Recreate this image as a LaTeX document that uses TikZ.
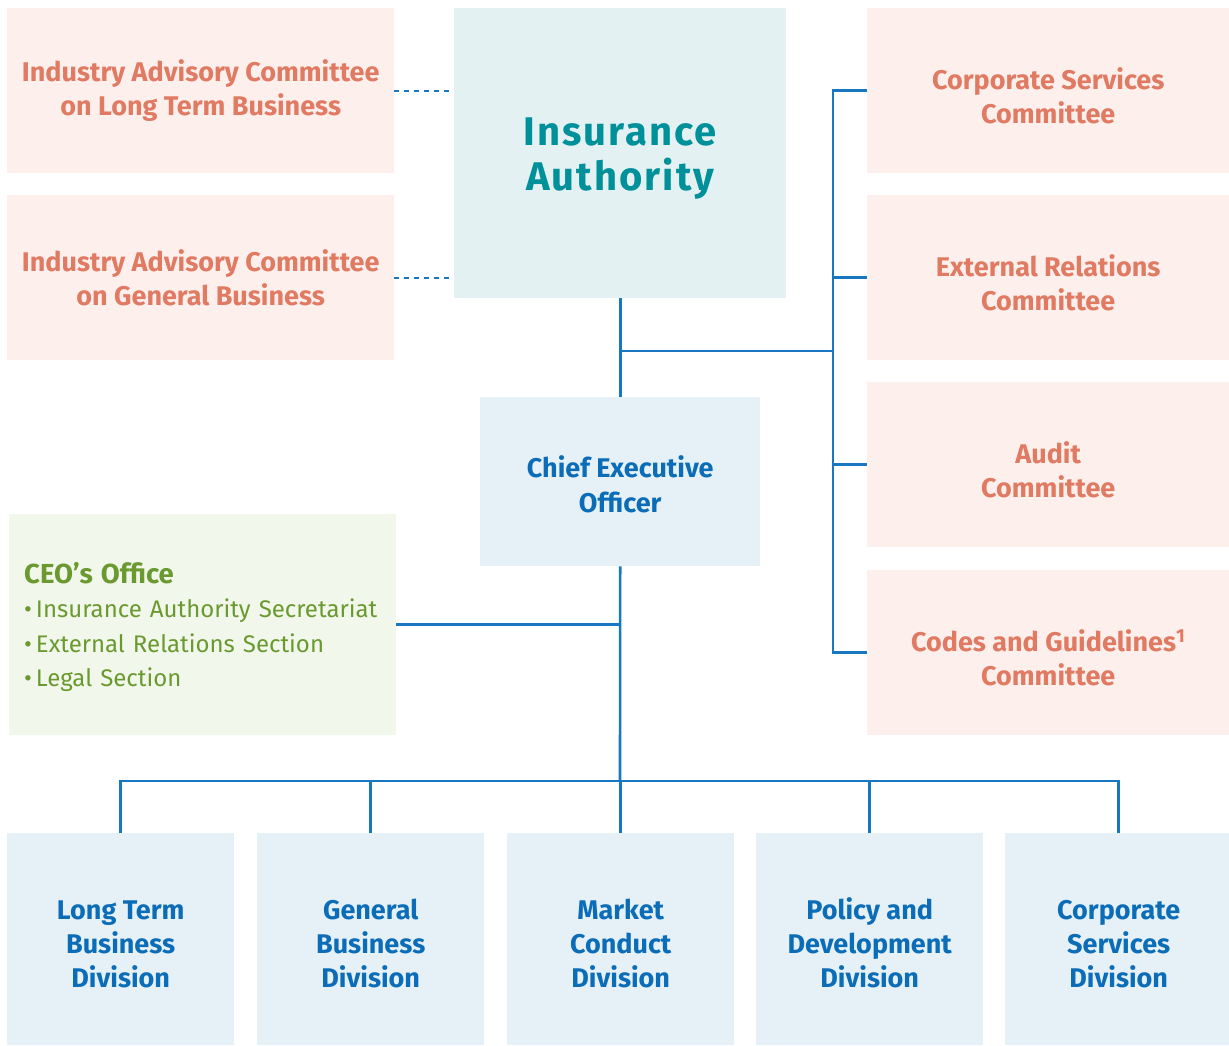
\documentclass[tikz,border=0pt]{standalone}
\usepackage{fontspec}
\setmainfont{Fira Sans}
\newfontfamily\titlefont[LetterSpace=5]{Fira Sans}
\usetikzlibrary{positioning}
\definecolor{cmtefill}{HTML}{FDEFEC}
\definecolor{cmtetext}{HTML}{E07A62}
\definecolor{iafill}{HTML}{E3F1F3}
\definecolor{iatext}{HTML}{00909A}
\definecolor{divfill}{HTML}{E6F0F7}
\definecolor{divtext}{HTML}{0B6DB7}
\definecolor{officefill}{HTML}{F2F7EC}
\definecolor{officetext}{HTML}{6A9A2F}
\definecolor{linkblue}{HTML}{1778C1}

\begin{document}
\begin{tikzpicture}[
    x=1pt, y=-1pt,
    box/.style={rectangle, inner sep=0pt, anchor=north west, align=center},
    cmte/.style={box, fill=cmtefill, text=cmtetext, font=\fontsize{27}{34}\selectfont\bfseries},
    advisory/.style={cmte, minimum width=387pt, minimum height=165pt},
    board/.style={cmte, minimum width=362pt, minimum height=165pt, text height=66pt},
    division/.style={box, fill=divfill, text=divtext, minimum width=227pt, minimum height=212pt,
                     font=\fontsize{27}{34}\selectfont\bfseries, text height=98pt},
    link/.style={draw=linkblue, line width=2.6pt},
    dotlink/.style={draw=linkblue, line width=2.2pt, dash pattern=on 5pt off 5pt},
]

\useasboundingbox (0,0) rectangle (1229,1045);

% Advisory committees
\node[advisory] (iacltb) at (7,8) {Industry Advisory Committee\\on Long Term Business};
\node[advisory] (iacgb) at (7,195) {Industry Advisory Committee\\on General Business};

% The Authority
\node[box, fill=iafill, text=iatext, minimum width=332pt, minimum height=290pt,
      font=\titlefont\fontsize{40}{45}\selectfont\bfseries, text height=84pt] (ia) at (454,8) {Insurance\\Authority};

% Committees of the Authority
\node[board] (csc) at (867,8) {Corporate Services\\Committee};
\node[board] (erc) at (867,195) {External Relations\\Committee};
\node[board] (ac) at (867,382) {Audit\\Committee};
\node[board] (cgc) at (867,570) {Codes and Guidelines\textsuperscript{1}\\Committee};

% CEO
\node[box, fill=divfill, text=divtext, minimum width=280pt, minimum height=169pt,
      font=\fontsize{27}{35}\selectfont\bfseries, text height=62pt] (ceo) at (480,397) {Chief Executive\\Officer};

\node[box, fill=officefill, text=officetext, minimum width=387pt, minimum height=221pt,
      align=left, text width=357pt, font=\fontsize{24}{34.5}\selectfont,
      execute at begin node={\rule{0pt}{26pt}}] (office) at (9,514)
      {{\fontsize{27.5}{34}\selectfont\bfseries CEO’s Office}\\
       \textbullet\,Insurance Authority Secretariat\\
       \textbullet\,External Relations Section\\
       \textbullet\,Legal Section};

% Divisions
\node[division] (ltb) at (7,833) {Long Term\\Business\\Division};
\node[division] (gbd) at (257,833) {General\\Business\\Division};
\node[division] (mcd) at (507,833) {Market\\Conduct\\Division};
\node[division] (pdd) at (756,833) {Policy and\\Development\\Division};
\node[division] (csd) at (1005,833) {Corporate\\Services\\Division};

% Connectors
\coordinate (iajoin) at (620,351);
\coordinate (rbus) at (833,351);
\coordinate (bus) at (620,781);

\draw[dotlink] (iacltb.east) -- (iacltb.east -| ia.west);
\draw[dotlink] (iacgb.east) -- (iacgb.east -| ia.west);

\draw[link] (ia.south) -- (ceo.north);
\draw[link] (iajoin) -- (rbus);
\draw[link] (csc.west) -- ++(-34,0) |- (cgc.west);
\draw[link] (erc.west) -- (erc.west -| rbus);
\draw[link] (ac.west) -- (ac.west -| rbus);

\draw[link] (office.east) -- (office.east -| ceo.south);
\draw[link] (ceo.south) -- (bus);
\draw[link] (ltb.north) -- (ltb.north |- bus) -- (csd.north |- bus) -- (csd.north);
\foreach \d in {gbd,mcd,pdd}
  \draw[link] (\d.north) -- (\d.north |- bus);

\end{tikzpicture}
\end{document}
